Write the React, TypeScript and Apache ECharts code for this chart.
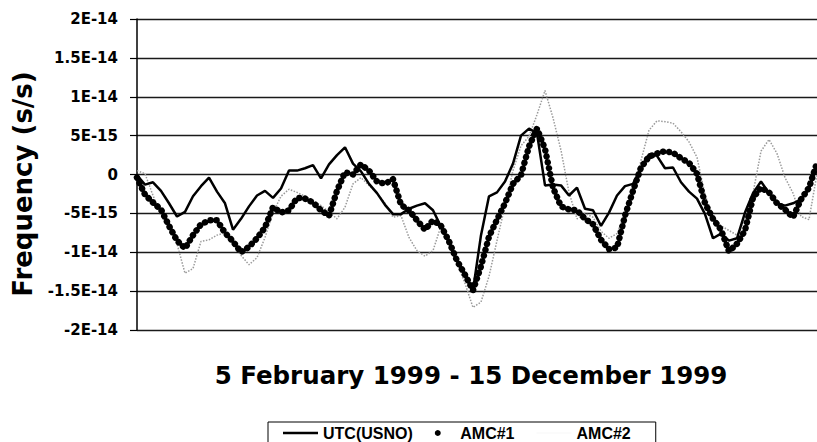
import React, { useEffect, useRef } from "react";
import * as echarts from "echarts";

// values in units of 1E-15 s/s, sampled evenly from 5 Feb 1999 to 15 Dec 1999
const utcUsno = [
  -0.1, -1.3, -1.0, -2.1, -3.7, -5.4, -4.8, -2.8, -1.5, -0.4,
  -2.2, -3.7, -7.1, -5.7, -4.1, -2.7, -2.1, -3.0, -1.8, 0.5,
  0.5, 0.8, 1.2, -0.5, 1.3, 2.5, 3.5, 1.4, 0.4, -1.2,
  -2.4, -3.9, -5.1, -5.1, -4.4, -4.0, -3.7, -4.6, -6.7, -8.7,
  -11.1, -13.1, -14.9, -7.8, -2.8, -2.3, -0.9, 1.4, 5.0, 5.9,
  5.3, -1.4, -1.3, -1.4, -2.7, -1.7, -4.4, -4.6, -6.6, -4.9,
  -2.7, -1.5, -1.2, 0.8, 2.6, 2.4, 0.8, 0.9, -1.0, -2.2,
  -3.1, -5.1, -8.2, -7.6, -8.5, -8.2, -4.9, -2.4, -0.9, -2.4,
  -3.7, -4.0, -3.7, -3.2, -1.9, 1.2,
];

const amc1 = [
  -0.4, -2.6, -3.6, -4.5, -6.6, -8.5, -9.5, -7.8, -6.4, -5.9,
  -5.9, -7.5, -8.6, -10.0, -9.3, -8.2, -6.8, -4.2, -4.9, -4.6,
  -3.0, -3.1, -3.6, -4.6, -5.3, -2.1, 0.3, 0.0, 1.3, 0.5,
  -0.9, -1.2, -0.6, -3.9, -4.6, -5.9, -7.1, -5.9, -6.6, -8.6,
  -11.1, -12.9, -14.9, -11.8, -8.0, -5.8, -3.7, -1.2, -0.1, 3.6,
  5.9, 3.3, -1.7, -4.1, -4.5, -4.6, -5.7, -6.4, -8.4, -9.6,
  -9.4, -5.3, -2.1, 0.9, 2.3, 2.7, 3.0, 2.8, 2.1, 1.5,
  0.1, -3.7, -5.7, -7.1, -9.9, -8.9, -7.2, -3.0, -1.7, -2.3,
  -3.7, -4.5, -5.5, -3.2, -1.7, 1.5,
];

const amc2 = [
  0.5, 0.1, -2.7, -5.3, -6.9, -8.9, -12.7, -12.1, -8.6, -8.4,
  -7.8, -7.5, -8.9, -10.4, -11.6, -10.7, -8.1, -4.9, -2.8, -1.9,
  -2.3, -2.8, -3.3, -4.0, -4.8, -5.7, -4.2, -1.2, -0.4, -1.4,
  -2.4, -3.7, -5.5, -5.3, -8.1, -9.8, -10.5, -9.8, -6.6, -8.6,
  -11.4, -14.0, -17.1, -16.4, -13.1, -8.5, -4.0, 0.5, 3.7, 4.9,
  7.7, 10.8, 7.3, 3.1, -2.3, -5.7, -5.0, -5.5, -7.3, -8.2,
  -7.6, -5.0, -2.1, 1.8, 5.7, 6.9, 6.8, 6.6, 5.5, 4.2,
  2.2, -2.6, -5.4, -6.6, -7.2, -7.8, -5.7, -2.4, 3.0, 4.5,
  2.7, -0.4, -2.4, -5.4, -5.8, 0.1,
];

const categories = utcUsno.map((_, i) => String(i));

const yTickValues = [-20, -15, -10, -5, 0, 5, 10, 15, 20];
const yTickLabels = ["-2E-14", "-1.5E-14", "-1E-14", "-5E-15", "0", "5E-15", "1E-14", "1.5E-14", "2E-14"];

const seriesNames = ["UTC(USNO)", "AMC#1", "AMC#2"];
const yTitle = "Frequency (s/s)";
const xTitle = "5 February 1999 - 15 December 1999";

export default function App() {
  const ref = useRef<HTMLDivElement>(null);
  useEffect(() => {
    if (!ref.current) return;
    const chart = echarts.init(ref.current, undefined, { renderer: "svg" });
    chart.setOption({
      animation: false,
      backgroundColor: "#ffffff",
      grid: { left: 137, right: 0, top: 19, bottom: 112, containLabel: false },
      xAxis: {
        type: "category",
        data: categories,
        boundaryGap: false,
        axisLine: { show: false },
        axisTick: { show: false },
        axisLabel: { show: false },
        splitLine: { show: false },
      },
      yAxis: {
        type: "value",
        min: -20,
        max: 20,
        interval: 5,
        axisLine: { show: true, lineStyle: { color: "#000", width: 1.5 } },
        axisTick: { show: true, length: 7, lineStyle: { color: "#000", width: 1.2 } },
        axisLabel: {
          margin: 19,
          color: "#000",
          fontFamily: "DejaVu Sans",
          fontWeight: "bold",
          fontSize: 15,
          formatter: (v: number) => {
            const idx = yTickValues.indexOf(Math.round(v));
            return idx >= 0 ? yTickLabels[idx] : "";
          },
        },
        splitLine: { show: true, lineStyle: { color: "#1a1a1a", width: 1.3 } },
      },
      legend: {
        left: 268,
        top: 422,
        orient: "horizontal",
        padding: [3, 25, 6, 15],
        itemWidth: 35,
        itemHeight: 6,
        itemGap: 22,
        borderColor: "#000",
        borderWidth: 1,
        borderRadius: 0,
        textStyle: {
          color: "#000",
          fontFamily: "Liberation Sans",
          fontWeight: "bold",
          fontSize: 16,
        },
        data: [
          { name: seriesNames[0], icon: "path://M0,0 L35,0 L35,2.5 L0,2.5 Z", itemStyle: { color: "#000" } },
          { name: seriesNames[1], icon: "circle", itemStyle: { color: "#000" } },
          { name: seriesNames[2], icon: "path://M0,0 L35,0 L35,0.6 L0,0.6 Z", itemStyle: { color: "#eeeeee" } },
        ],
      },
      graphic: [
        {
          type: "text",
          x: 23,
          y: 184,
          rotation: Math.PI / 2,
          style: {
            text: yTitle,
            fill: "#000",
            font: "bold 26px 'DejaVu Sans'",
            textAlign: "center",
            textVerticalAlign: "middle",
          },
        },
        {
          type: "text",
          x: 471,
          y: 375,
          style: {
            text: xTitle,
            fill: "#000",
            font: "bold 24.5px 'DejaVu Sans'",
            textAlign: "center",
            textVerticalAlign: "middle",
          },
        },
      ],
      series: [
        {
          name: seriesNames[0],
          type: "line",
          data: utcUsno,
          symbol: "none",
          showSymbol: false,
          lineStyle: { color: "#000", width: 2.5 },
          z: 4,
        },
        {
          name: seriesNames[1],
          type: "line",
          data: amc1,
          symbol: "none",
          showSymbol: false,
          itemStyle: { color: "#000" },
          lineStyle: { color: "#000", width: 6.5, type: [0.01, 6], cap: "round" },
          z: 3,
        },
        {
          name: seriesNames[2],
          type: "line",
          data: amc2,
          symbol: "none",
          showSymbol: false,
          lineStyle: { color: "#9a9a9a", width: 1.5, type: "dotted" },
          z: 2,
        },
      ],
    });
    return () => chart.dispose();
  }, []);
  return (
    <div
      ref={ref}
      style={{ position: "absolute", left: 0, top: 0, width: 817, height: 442 }}
    />
  );
}
